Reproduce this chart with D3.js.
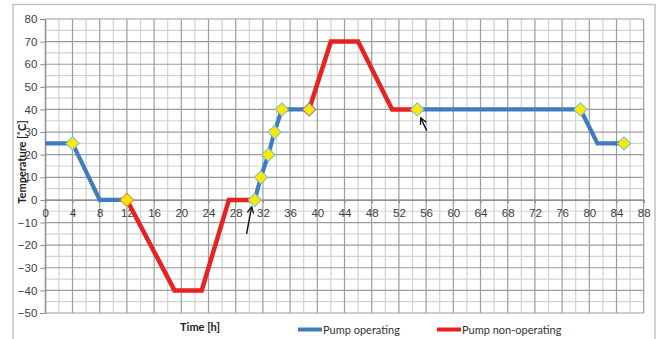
<!DOCTYPE html>
<html>
<head>
<meta charset="utf-8">
<script src="https://cdn.jsdelivr.net/npm/d3@7/dist/d3.min.js"></script>
<style>
  html, body { margin: 0; padding: 0; background: #fff; }
  svg { display: block; font-family: Lato, "Open Sans", "Liberation Sans", sans-serif; }
</style>
</head>
<body>
<svg id="chart" width="660" height="339"></svg>
<script>
// Temperature profile segments: [time h, temperature °C]
const operatingA = [[0, 25], [4, 25], [8, 0], [12, 0]];
const operatingB = [[30.8, 0], [31.7, 10], [32.8, 20], [33.7, 30], [34.8, 40], [38.8, 40]];
const operatingC = [[54.7, 40], [78.7, 40], [81.2, 25], [85.1, 25]];
const idleA = [[12, 0], [19, -40], [23, -40], [27, 0], [30.8, 0]];
const idleB = [[38.8, 40], [42, 70], [46, 70], [51, 40], [54.7, 40]];

// Measurement points (diamonds)
const markers = [[4, 25], [12, 0], [30.8, 0], [31.7, 10], [32.8, 20], [33.7, 30],
                 [34.8, 40], [38.8, 40], [54.7, 40], [78.7, 40], [85.1, 25]];

// Arrows pointing at the start of each operating phase: [from, to]
const arrows = [[[29.6, -15], [30.35, -3]], [[56.1, 30.6], [55.2, 36.3]]];

const xTicks = d3.range(0, 89, 4);
const yTicks = d3.range(-50, 81, 10);
const seriesNames = ["Pump operating", "Pump non-operating"];

const svg = d3.select("#chart");
const x = d3.scaleLinear().domain([0, 88]).range([45.3, 643.7]);
const y = d3.scaleLinear().domain([-50, 80]).range([313, 19]);

const blue = "#3f7cbf", red = "#e8221f";

// outer chart frame
svg.append("rect").attr("x", 13).attr("y", 4.5).attr("width", 642).attr("height", 345)
  .attr("fill", "none").attr("stroke", "#c4c4c4").attr("stroke-width", 1.5);

// grid: minor every 2 h / 5 °C, major every 4 h / 10 °C
const grid = svg.append("g");
d3.range(2, 88, 4).forEach(t => {
  grid.append("line").attr("x1", x(t)).attr("x2", x(t)).attr("y1", y(-50)).attr("y2", y(80))
    .attr("stroke", "#d2d2d2").attr("stroke-width", 1.2);
});
d3.range(-45, 80, 10).forEach(v => {
  grid.append("line").attr("x1", x(0)).attr("x2", x(88)).attr("y1", y(v)).attr("y2", y(v))
    .attr("stroke", "#d2d2d2").attr("stroke-width", 1.2);
});
xTicks.forEach(t => {
  grid.append("line").attr("x1", x(t)).attr("x2", x(t)).attr("y1", y(-50)).attr("y2", y(80))
    .attr("stroke", "#9c9c9c").attr("stroke-width", 1.2);
});
yTicks.forEach(v => {
  grid.append("line").attr("x1", x(0)).attr("x2", x(88)).attr("y1", y(v)).attr("y2", y(v))
    .attr("stroke", "#9c9c9c").attr("stroke-width", 1.2);
});

// y axis
const yAxis = svg.append("g").attr("transform", `translate(${x(0)},0)`)
  .call(d3.axisLeft(y).tickValues(yTicks).tickSize(5).tickPadding(3));
yAxis.select(".domain").attr("stroke", "#8a8a8a");
yAxis.selectAll(".tick line").attr("stroke", "#8a8a8a");
yAxis.selectAll("text").attr("font-size", 11.5).attr("fill", "#404040");

// x axis crossing at 0 °C
const xAxis = svg.append("g").attr("transform", `translate(0,${y(0)})`)
  .call(d3.axisBottom(x).tickValues(xTicks).tickSize(3).tickPadding(6));
xAxis.select(".domain").attr("stroke", "#8a8a8a");
xAxis.selectAll(".tick line").attr("stroke", "#8a8a8a");
xAxis.selectAll("text").attr("font-size", 11.5).attr("fill", "#404040");

// series lines
const line = d3.line().x(d => x(d[0])).y(d => y(d[1])).curve(d3.curveLinear);
[idleA, idleB].forEach(s => {
  svg.append("path").attr("d", line(s)).attr("fill", "none")
    .attr("stroke", red).attr("stroke-width", 4.5).attr("stroke-linejoin", "miter");
});
[operatingA, operatingB, operatingC].forEach(s => {
  svg.append("path").attr("d", line(s)).attr("fill", "none")
    .attr("stroke", blue).attr("stroke-width", 4.2).attr("stroke-linejoin", "miter");
});

// diamonds
const edge = (d, i) => i === 1 ? "#f07f3c" : (i === 7 ? "#9a6aa0" : "#6fc0d8");
svg.append("g").selectAll("path").data(markers).join("path")
  .attr("d", d3.symbol().type(d3.symbolSquare).size(88))
  .attr("transform", d => `translate(${x(d[0])},${y(d[1])}) rotate(45)`)
  .attr("fill", "#ffe800").attr("stroke", edge).attr("stroke-width", 1);

// arrows
const defs = svg.append("defs");
defs.append("marker").attr("id", "head").attr("viewBox", "0 0 10 10")
  .attr("refX", 9).attr("refY", 5).attr("markerWidth", 8).attr("markerHeight", 8)
  .attr("markerUnits", "userSpaceOnUse").attr("orient", "auto")
  .append("path").attr("d", "M1,1 L9,5 L1,9").attr("fill", "none")
  .attr("stroke", "#111").attr("stroke-width", 1.6);
arrows.forEach(a => {
  svg.append("line")
    .attr("x1", x(a[0][0])).attr("y1", y(a[0][1]))
    .attr("x2", x(a[1][0])).attr("y2", y(a[1][1]))
    .attr("stroke", "#111").attr("stroke-width", 1.4).attr("marker-end", "url(#head)");
});

// axis titles
svg.append("text").attr("transform", `translate(26,162) rotate(-90)`)
  .attr("text-anchor", "middle").attr("font-size", 11).attr("font-weight", "bold")
  .attr("fill", "#222").text("Temperature [˚C]");
svg.append("text").attr("x", 200).attr("y", 331).attr("text-anchor", "middle")
  .attr("font-size", 11).attr("font-weight", "bold").attr("fill", "#222").text("Time [h]");

// legend
const legend = svg.append("g");
[[298, blue], [437, red]].forEach(([lx, c], i) => {
  legend.append("line").attr("x1", lx).attr("x2", lx + 24).attr("y1", 329.5).attr("y2", 329.5)
    .attr("stroke", c).attr("stroke-width", 4);
  legend.append("text").attr("x", lx + 25).attr("y", 333.5).attr("font-size", 11)
    .attr("fill", "#333").text(seriesNames[i]);
});
</script>
</body>
</html>
